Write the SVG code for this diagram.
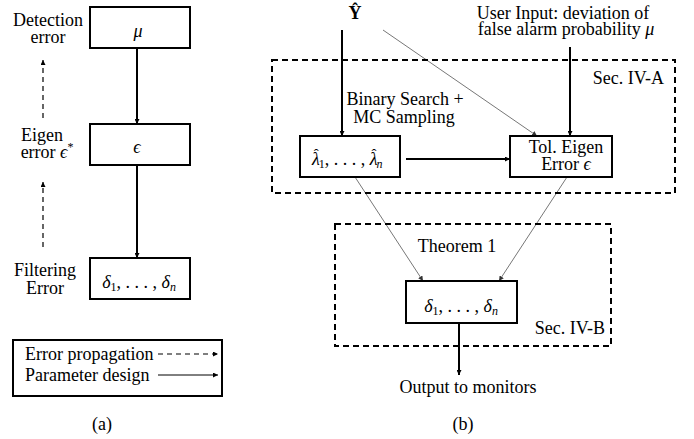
<svg xmlns="http://www.w3.org/2000/svg" width="694" height="439" viewBox="0 0 694 439" font-family="'Liberation Serif','Times New Roman','DejaVu Serif',serif">
<defs>
<marker id="ah" viewBox="0 0 6 6" refX="6" refY="3" markerWidth="5" markerHeight="5" markerUnits="userSpaceOnUse" orient="auto"><path d="M0,0 L6,3 L0,6 z" fill="#000"/></marker>
<marker id="ahg" viewBox="0 0 6 6" refX="6" refY="3" markerWidth="5" markerHeight="5" markerUnits="userSpaceOnUse" orient="auto"><path d="M0,0 L6,3 L0,6 z" fill="#333"/></marker>
</defs>
<style>
text{font-family:'Liberation Serif','Times New Roman','DejaVu Serif',serif;font-size:18px;fill:#000}
.m{font-style:italic}
.c{text-anchor:middle}
.e{text-anchor:end}
.box{fill:#fff;stroke:#000;stroke-width:2}
.sec{fill:none;stroke:#000;stroke-width:2;stroke-dasharray:6,4}
.thick{stroke:#000;stroke-width:2;fill:none}
.thin{stroke:#000;stroke-width:1;fill:none}
.gray{stroke:#777;stroke-width:1;fill:none}
.dash{stroke:#000;stroke-width:1.2;stroke-dasharray:5,4;fill:none}
.sub{font-size:12px}
.hat{font-size:15px}
</style>
<g id="connectors">
<line class="thick" x1="137" y1="48" x2="137" y2="124" marker-end="url(#ah)"/>
<line class="thick" x1="137" y1="165" x2="137" y2="258" marker-end="url(#ah)"/>
<line class="dash" x1="43" y1="118" x2="43" y2="60" marker-end="url(#ah)"/>
<line class="dash" x1="43" y1="247" x2="43" y2="182" marker-end="url(#ah)"/>
<line class="thick" x1="342" y1="30" x2="342" y2="136" marker-end="url(#ah)"/>
<line class="gray" x1="383" y1="30" x2="537" y2="136" marker-end="url(#ahg)"/>
<line class="thick" x1="570" y1="47" x2="570" y2="136" marker-end="url(#ah)"/>
<line class="thick" x1="406" y1="159" x2="510" y2="159" marker-end="url(#ah)"/>
<line class="gray" x1="355" y1="177" x2="423" y2="281" marker-end="url(#ahg)"/>
<line class="gray" x1="567" y1="177" x2="499" y2="281" marker-end="url(#ahg)"/>
<line class="thick" x1="459" y1="323" x2="459" y2="375" marker-end="url(#ah)"/>
</g>
<g id="panel-a-labels">
<text class="c" x="48" y="26">Detection</text>
<text class="c" x="48" y="43">error</text>
<text class="c" x="42" y="141">Eigen</text>
<text class="c" x="47" y="158">error <tspan class="m">ϵ</tspan><tspan class="sub" dy="-7">*</tspan></text>
<text class="c" x="45" y="276">Filtering</text>
<text class="c" x="45" y="294">Error</text>
</g>
<g id="node-mu">
<rect class="box" x="90" y="7" width="100" height="41"/>
<text class="c m" x="138" y="37">μ</text>
</g>
<g id="node-eps">
<rect class="box" x="90" y="124" width="100" height="41"/>
<text class="c m" x="137" y="153">ϵ</text>
</g>
<g id="node-delta-a">
<rect class="box" x="90" y="258" width="100" height="41"/>
<text class="c" x="139" y="288"><tspan class="m">δ</tspan><tspan class="sub" dy="3">1</tspan><tspan dy="-3">, . . . , </tspan><tspan class="m">δ</tspan><tspan class="sub m" dy="3">n</tspan></text>
</g>
<g id="legend">
<rect class="box" x="13" y="340" width="209" height="56"/>
<text x="25" y="360">Error propagation</text>
<text x="25" y="381">Parameter design</text>
<line class="dash" x1="158" y1="354" x2="218" y2="354" marker-end="url(#ah)"/>
<line class="thin" x1="158" y1="375" x2="218" y2="375" marker-end="url(#ah)"/>
</g>
<text class="c" x="102" y="430">(a)</text>
<g id="sec-iv-a">
<rect class="sec" x="272" y="60" width="403" height="133"/>
<text class="e" x="664" y="84">Sec. IV-A</text>
</g>
<g id="sec-iv-b">
<rect class="sec" x="335" y="224" width="276" height="122"/>
<text class="e" x="605" y="334">Sec. IV-B</text>
</g>
<g id="node-y">
<text class="c" x="355" y="19" font-weight="bold">Ŷ</text>
</g>
<g id="node-user">
<text class="c" x="563" y="19">User Input: deviation of</text>
<text class="c" x="566" y="35">false alarm probability <tspan class="m">μ</tspan></text>
</g>
<text class="c" x="405" y="105">Binary Search +</text>
<text class="c" x="404" y="123">MC Sampling</text>
<g id="node-lambda">
<rect class="box" x="300" y="136" width="100" height="41"/>
<text x="312" y="165"><tspan class="m">λ</tspan><tspan class="hat" dx="-6" dy="-6">ˆ</tspan><tspan class="sub" dx="0" dy="9">1</tspan><tspan dy="-3">, . . . , </tspan><tspan class="m">λ</tspan><tspan class="hat" dx="-6" dy="-6">ˆ</tspan><tspan class="sub m" dx="0" dy="9">n</tspan></text>
</g>
<g id="node-tol">
<rect class="box" x="510" y="136" width="102" height="41"/>
<text class="c" x="566" y="153">Tol. Eigen</text>
<text class="c" x="566" y="170">Error <tspan class="m">ϵ</tspan></text>
</g>
<text class="c" x="457" y="252">Theorem 1</text>
<g id="node-delta-b">
<rect class="box" x="406" y="281" width="111" height="42"/>
<text class="c" x="461" y="312"><tspan class="m">δ</tspan><tspan class="sub" dy="3">1</tspan><tspan dy="-3">, . . . , </tspan><tspan class="m">δ</tspan><tspan class="sub m" dy="3">n</tspan></text>
</g>
<text class="c" x="468" y="393">Output to monitors</text>
<text class="c" x="463" y="430">(b)</text>
</svg>
